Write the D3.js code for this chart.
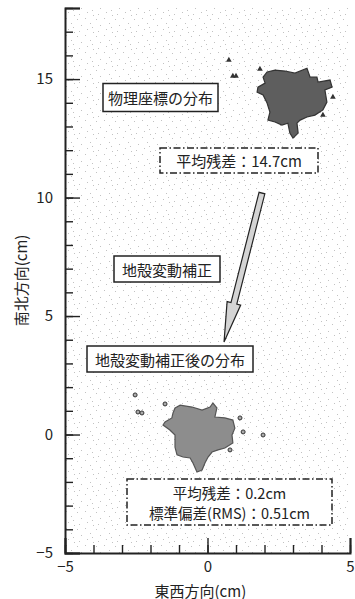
<!DOCTYPE html>
<html>
<head>
<meta charset="utf-8">
<script src="https://cdn.jsdelivr.net/npm/d3@7"></script>
<style>
  body { margin: 0; background: #fff; }
  text { font-family: "Noto Sans CJK JP", "Noto Sans", sans-serif; fill: #222; }
</style>
</head>
<body>
<div id="chart"></div>
<script>
// outline of the dense cluster before correction (cm)
const rawOutline = [
  [2.09, 15.30], [2.37, 15.38], [2.72, 15.34], [3.07, 15.25], [3.49, 15.46],
  [3.60, 15.08], [3.84, 15.08], [3.88, 14.87], [4.30, 14.96], [4.37, 14.66],
  [4.12, 14.54], [4.19, 14.03], [4.05, 13.70], [3.77, 13.48], [3.49, 13.40],
  [3.25, 13.27], [3.14, 13.14], [3.18, 12.72], [3.00, 12.51], [2.89, 12.72],
  [2.82, 13.14], [2.61, 13.06], [2.37, 13.19], [2.12, 13.27], [2.19, 13.61],
  [2.09, 13.99], [1.95, 14.33], [1.74, 14.45], [1.77, 14.66], [2.02, 14.83],
  [1.95, 15.08]
];
// isolated points before correction
const rawStray = [
  [0.75, 15.80], [0.89, 15.13], [1.00, 15.13], [1.84, 15.42], [4.05, 13.48], [4.40, 14.24]
];
// outline of the cluster after correction
const corrOutline = [
  [-1.14, 1.12], [-0.96, 1.24], [-0.54, 1.16], [-0.19, 1.03], [0.09, 1.16],
  [0.19, 1.33], [0.33, 1.12], [0.26, 0.74], [0.61, 0.70], [0.89, 0.61],
  [0.96, 0.27], [0.86, -0.02], [0.89, -0.36], [0.61, -0.57], [0.37, -0.65],
  [0.16, -0.74], [0.02, -0.95], [-0.09, -1.20], [-0.19, -1.50], [-0.37, -1.58],
  [-0.51, -1.20], [-0.61, -0.99], [-0.86, -0.95], [-1.07, -0.86], [-1.14, -0.53],
  [-1.14, -0.02], [-1.32, 0.19], [-1.56, 0.40], [-1.49, 0.53], [-1.25, 0.70],
  [-1.21, 0.91]
];
const corrStray = [
  [-2.54, 1.67], [-2.44, 0.95], [-2.30, 0.91], [-1.49, 1.29], [1.14, 0.70],
  [1.25, 0.11], [1.95, -0.02], [0.79, -0.65]
];

const xMajor = [-5, 0, 5];
const yMajor = [-5, 0, 5, 10, 15];
const xLabel = "東西方向(cm)";
const yLabel = "南北方向(cm)";

const width = 355, height = 599;
const margin = { top: 8, right: 5, bottom: 46, left: 65 };

const svg = d3.select("#chart").append("svg")
  .attr("width", width)
  .attr("height", height);

const x = d3.scaleLinear().domain([-5, 5]).range([margin.left, width - margin.right]);
const y = d3.scaleLinear().domain([-5, 18]).range([height - margin.bottom, margin.top]);

// stippled background like the printed figure
const defs = svg.append("defs");
const pat = defs.append("pattern")
  .attr("id", "stipple")
  .attr("width", 19).attr("height", 17)
  .attr("patternUnits", "userSpaceOnUse");
[[1, 2], [9, 1], [5, 8], [14, 6], [3, 14], [11, 12], [17, 15], [16, 10]].forEach(p => {
  pat.append("rect").attr("x", p[0]).attr("y", p[1]).attr("width", 1).attr("height", 1).attr("fill", "#c2c2c2");
});

svg.append("rect")
  .attr("x", x(-5)).attr("y", y(18))
  .attr("width", x(5) - x(-5)).attr("height", y(-5) - y(18))
  .attr("fill", "url(#stipple)");

// clusters
const line = d3.line().x(d => x(d[0])).y(d => y(d[1])).curve(d3.curveLinearClosed);

svg.append("path")
  .attr("d", line(rawOutline))
  .attr("fill", "#5e5e5e")
  .attr("stroke", "#333")
  .attr("stroke-width", 1.2);

svg.selectAll(".rawStray")
  .data(rawStray)
  .enter()
  .append("path")
  .attr("transform", d => `translate(${x(d[0])},${y(d[1])})`)
  .attr("d", d3.symbol(d3.symbolTriangle).size(14))
  .attr("fill", "#333");

svg.append("path")
  .attr("d", line(corrOutline))
  .attr("fill", "#8d8d8d")
  .attr("stroke", "#555")
  .attr("stroke-width", 1.2);

svg.selectAll(".corrStray")
  .data(corrStray)
  .enter()
  .append("circle")
  .attr("cx", d => x(d[0]))
  .attr("cy", d => y(d[1]))
  .attr("r", 2)
  .attr("fill", "#aaa")
  .attr("stroke", "#333")
  .attr("stroke-width", 1);

// axes: ticks point inward
const fmt = d3.format("d");
const yAxisMinor = d3.axisLeft(y).tickValues(d3.range(-5, 19)).tickSize(-8).tickFormat("");
const yAxisMajor = d3.axisLeft(y).tickValues(yMajor.concat([18])).tickSize(-15).tickPadding(12)
  .tickFormat(d => d === 18 ? "" : fmt(d));
const xAxisMinor = d3.axisBottom(x).tickValues(d3.range(-5, 6)).tickSize(-8).tickFormat("");
const xAxisMajor = d3.axisBottom(x).tickValues(xMajor).tickSize(-15).tickPadding(8).tickFormat(fmt);

const gy = svg.append("g").attr("transform", `translate(${margin.left},0)`);
gy.append("g").call(yAxisMinor).call(g => g.select(".domain").remove());
gy.append("g").call(yAxisMajor);
const gx = svg.append("g").attr("transform", `translate(0,${height - margin.bottom})`);
gx.append("g").call(xAxisMinor).call(g => g.select(".domain").remove());
gx.append("g").call(xAxisMajor);

svg.selectAll(".domain").attr("stroke", "#222").attr("stroke-width", 2);
svg.selectAll(".tick line").attr("stroke", "#222").attr("stroke-width", 1.4);
svg.selectAll(".tick text").attr("font-size", 15).attr("fill", "#222")
  .attr("font-family", "'Noto Sans CJK JP', sans-serif");

svg.append("text")
  .attr("transform", `translate(20,${y(6.5)}) rotate(-90)`)
  .attr("text-anchor", "middle")
  .attr("dominant-baseline", "central")
  .attr("font-size", 15)
  .text(yLabel);

svg.append("text")
  .attr("x", x(-0.25))
  .attr("y", 590)
  .attr("text-anchor", "middle")
  .attr("dominant-baseline", "central")
  .attr("font-size", 15)
  .text(xLabel);

// arrow from the raw cluster to the corrected one
function arrow(x0, y0, x1, y1, shaft, head, headLen) {
  const dx = x1 - x0, dy = y1 - y0, len = Math.hypot(dx, dy);
  const ux = dx / len, uy = dy / len, nx = -uy, ny = ux;
  const bx = x1 - ux * headLen, by = y1 - uy * headLen;
  const pts = [
    [x0 + nx * shaft, y0 + ny * shaft],
    [bx + nx * shaft, by + ny * shaft],
    [bx + nx * head, by + ny * head],
    [x1, y1],
    [bx - nx * head, by - ny * head],
    [bx - nx * shaft, by - ny * shaft],
    [x0 - nx * shaft, y0 - ny * shaft]
  ];
  return "M" + pts.map(p => p.join(",")).join("L") + "Z";
}
svg.append("path")
  .attr("d", arrow(x(1.91), y(10.19), x(0.58), y(3.90), 3, 7, 40))
  .attr("fill", "#d4d4d4")
  .attr("stroke", "#222")
  .attr("stroke-width", 1.2);

// annotation boxes
function box(cx, cy, lines, w, h, dashed, size, gap) {
  const g = svg.append("g");
  g.append("rect")
    .attr("x", cx - w / 2).attr("y", cy - h / 2)
    .attr("width", w).attr("height", h)
    .attr("fill", "#fff")
    .attr("stroke", "#222")
    .attr("stroke-width", 1.5)
    .attr("stroke-dasharray", dashed ? "7,2.5,1.5,2.5" : null);
  lines.forEach((t, i) => {
    g.append("text")
      .attr("x", cx)
      .attr("y", cy + (i - (lines.length - 1) / 2) * gap)
      .attr("text-anchor", "middle")
      .attr("dominant-baseline", "central")
      .attr("font-size", size)
      .text(t);
  });
}

box(160.5, 97.5, ["物理座標の分布"], 115, 28, false, 15, 0);
box(239, 160.5, ["平均残差：14.7cm"], 158, 25, true, 15, 0);
box(167, 269, ["地殻変動補正"], 106, 26, false, 15, 0);
box(170, 359, ["地殻変動補正後の分布"], 166, 26, false, 15, 0);
box(229.5, 502, ["平均残差：0.2cm", "標準偏差(RMS)：0.51cm"], 205, 46, true, 14.5, 20);
</script>
</body>
</html>
